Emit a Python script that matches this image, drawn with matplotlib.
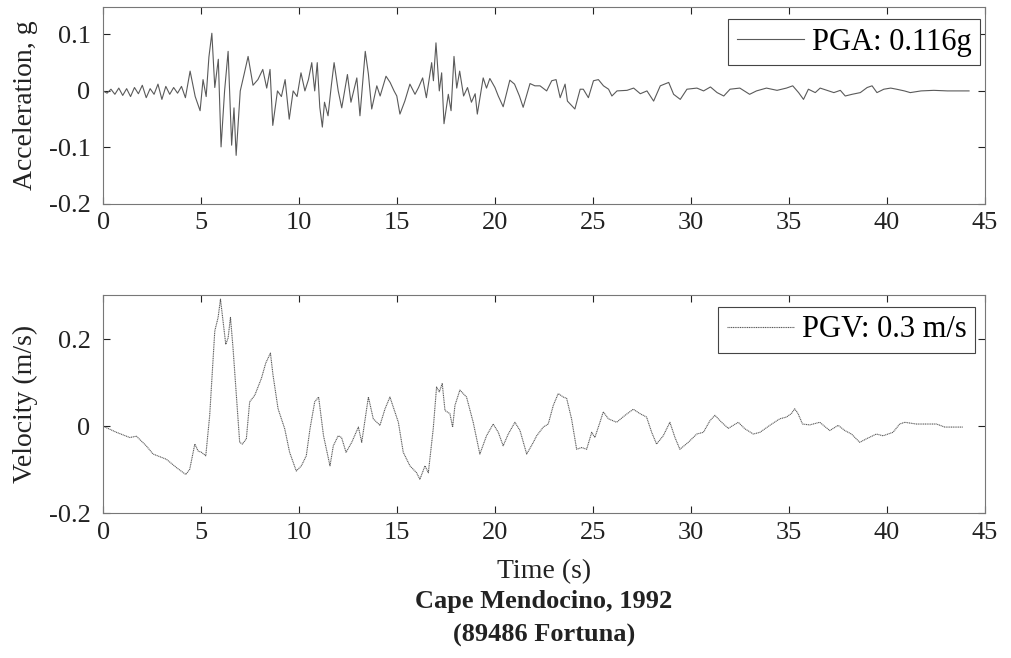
import matplotlib
matplotlib.use("Agg")
import matplotlib.pyplot as plt
import numpy as np

plt.rcParams['font.family'] = ['Liberation Serif', 'DejaVu Serif']
plt.rcParams['axes.unicode_minus'] = False

# ---------------- data ----------------
# acceleration (g) vs time (s), lines kept aligned 10 by 10
acc_t = [0.0, 0.2, 0.4, 0.6, 0.8, 1.0, 1.2, 1.4, 1.6, 1.8,
         2.0, 2.2, 2.4, 2.6, 2.8, 3.0, 3.2, 3.4, 3.6, 3.8,
         4.0, 4.2, 4.44, 4.7, 4.95, 5.1, 5.26, 5.4, 5.55, 5.7,
         5.88, 6.02, 6.2, 6.38, 6.56, 6.68, 6.79, 7.0, 7.2, 7.4,
         7.65, 7.9, 8.15, 8.35, 8.52, 8.66, 8.9, 9.1, 9.29, 9.5,
         9.7, 9.9, 10.1, 10.3, 10.48, 10.65, 10.8, 10.93, 11.06, 11.19,
         11.3, 11.48, 11.65, 11.79, 12.0, 12.18, 12.47, 12.65, 12.95, 13.11,
         13.38, 13.54, 13.71, 13.97, 14.14, 14.44, 14.65, 14.85, 14.99, 15.15,
         15.4, 15.66, 15.92, 16.1, 16.31, 16.5, 16.77, 16.86, 16.99, 17.16,
         17.28, 17.4, 17.62, 17.76, 17.91, 18.05, 18.2, 18.4, 18.6, 18.8,
         18.99, 19.1, 19.4, 19.57, 19.74, 20.0, 20.17, 20.42, 20.76, 21.0,
         21.25, 21.44, 21.79, 22.04, 22.3, 22.64, 22.9, 23.12, 23.33, 23.58,
         23.7, 24.08, 24.35, 24.51, 24.77, 25.03, 25.28, 25.54, 25.8, 25.97,
         26.23, 26.74, 27.08, 27.42, 27.76, 28.1, 28.44, 28.87, 29.12, 29.46,
         29.8, 30.31, 30.65, 31.0, 31.34, 31.68, 32.0, 32.5, 33.0, 33.35,
         33.86, 34.4, 34.88, 35.2, 35.5, 35.75, 36.0, 36.35, 36.6, 36.95,
         37.3, 37.63, 37.88, 38.23, 38.65, 39.0, 39.25, 39.5, 39.85, 40.2,
         40.5, 40.9, 41.2, 41.75, 42.4, 43.1, 44.2]
acc_g = [0.0, -0.004, 0.003, -0.006, 0.005, -0.008, 0.004, -0.01, 0.006, -0.005,
         0.01, -0.012, 0.004, -0.006, 0.012, -0.015, 0.008, -0.006, 0.006, -0.004,
         0.008, -0.012, 0.035, -0.01, -0.035, 0.02, -0.01, 0.06, 0.102, 0.006,
         0.056, -0.099, 0.0, 0.07, -0.096, -0.03, -0.114, 0.0, 0.03, 0.061,
         0.01, 0.02, 0.038, 0.005, 0.038, -0.061, 0.0, -0.01, 0.02, -0.05,
         0.0, -0.01, 0.032, 0.0, 0.02, 0.05, 0.0, 0.05, -0.029, -0.064,
         -0.02, -0.044, 0.01, 0.05, 0.0, -0.03, 0.029, -0.02, 0.023, -0.044,
         0.07, 0.03, -0.032, 0.009, -0.009, 0.026, 0.015, 0.0, -0.009, -0.041,
         -0.018, 0.012, -0.006, 0.006, 0.023, -0.012, 0.05, 0.018, 0.085, 0.0,
         0.032, -0.058, -0.006, -0.035, 0.061, 0.005, 0.035, -0.009, 0.006, -0.02,
         -0.005, -0.041, 0.023, 0.005, 0.022, 0.006, -0.009, -0.028, 0.019, 0.012,
         -0.009, -0.029, 0.013, 0.009, 0.009, 0.0, 0.018, 0.02, -0.012, 0.012,
         -0.018, -0.032, 0.003, 0.003, -0.012, 0.018, 0.02, 0.009, 0.003, -0.009,
         0.0, 0.001, 0.005, -0.005, 0.0, -0.018, 0.009, 0.015, -0.006, -0.015,
         0.003, 0.005, 0.0, 0.007, -0.003, -0.009, 0.003, 0.005, -0.006, 0.0,
         0.005, 0.001, 0.005, 0.009, -0.003, -0.015, 0.003, -0.003, 0.005, 0.001,
         -0.003, 0.001, -0.009, -0.006, -0.003, 0.006, 0.009, -0.003, 0.003, 0.005,
         0.003, 0.0, -0.003, 0.0, 0.001, 0.0, 0.0]

# velocity (m/s) vs time (s)
vel_t = [0.0, 0.68, 1.36, 1.7, 2.2, 2.55, 3.23, 3.74, 4.22, 4.42,
         4.68, 4.85, 5.02, 5.24, 5.44, 5.7, 5.87, 5.99, 6.12, 6.26,
         6.38, 6.5, 6.63, 6.8, 6.97, 7.11, 7.31, 7.48, 7.74, 8.08,
         8.3, 8.54, 8.67, 8.93, 9.27, 9.52, 9.86, 10.12, 10.37, 10.56,
         10.8, 11.0, 11.25, 11.58, 11.75, 12.0, 12.17, 12.4, 12.69, 13.03,
         13.2, 13.54, 13.79, 14.13, 14.39, 14.64, 15.07, 15.32, 15.66, 16.0,
         16.17, 16.43, 16.6, 16.85, 17.02, 17.16, 17.31, 17.45, 17.7, 17.84,
         17.96, 18.21, 18.55, 18.89, 19.23, 19.57, 19.91, 20.17, 20.42, 20.68,
         21.02, 21.28, 21.62, 21.96, 22.13, 22.47, 22.72, 22.98, 23.23, 23.49,
         23.66, 23.91, 24.17, 24.43, 24.68, 24.94, 25.1, 25.36, 25.53, 25.79,
         26.21, 26.64, 27.06, 27.4, 27.74, 28.0, 28.25, 28.59, 28.93, 29.19,
         29.44, 29.87, 30.3, 30.64, 30.98, 31.23, 31.57, 31.91, 32.42, 32.76,
         33.19, 33.53, 34.03, 34.54, 34.88, 35.13, 35.3, 35.47, 35.7, 36.07,
         36.58, 37.09, 37.52, 37.86, 38.2, 38.62, 38.96, 39.47, 39.81, 40.32,
         40.66, 40.92, 41.51, 42.54, 42.96, 43.9]
vel_ms = [0.0, -0.014, -0.026, -0.023, -0.045, -0.064, -0.076, -0.095, -0.111, -0.099,
          -0.041, -0.057, -0.06, -0.068, 0.025, 0.219, 0.25, 0.292, 0.242, 0.188,
          0.203, 0.25, 0.18, 0.071, -0.037, -0.041, -0.029, 0.056, 0.071, 0.11,
          0.145, 0.168, 0.118, 0.04, -0.006, -0.06, -0.103, -0.091, -0.068, -0.006,
          0.056, 0.067, -0.022, -0.091, -0.045, -0.022, -0.026, -0.06, -0.037, -0.002,
          -0.037, 0.067, 0.017, 0.002, 0.04, 0.067, 0.009, -0.06, -0.091, -0.107,
          -0.122, -0.091, -0.107, -0.006, 0.09, 0.079, 0.098, 0.036, 0.029, -0.002,
          0.048, 0.083, 0.067, 0.009, -0.064, -0.022, 0.005, -0.014, -0.045, -0.018,
          0.009, -0.01, -0.064, -0.037, -0.022, -0.002, 0.005, 0.048, 0.075, 0.067,
          0.064, 0.017, -0.053, -0.049, -0.053, -0.014, -0.026, 0.009, 0.033, 0.017,
          0.009, 0.025, 0.039, 0.029, 0.021, -0.014, -0.041, -0.022, 0.009, -0.026,
          -0.053, -0.037, -0.018, -0.014, 0.013, 0.025, 0.009, -0.005, 0.009, -0.006,
          -0.018, -0.014, 0.002, 0.017, 0.021, 0.029, 0.04, 0.029, 0.005, 0.003,
          0.009, -0.01, 0.002, -0.01, -0.018, -0.037, -0.029, -0.018, -0.022, -0.014,
          0.005, 0.009, 0.005, 0.005, -0.002, -0.002]

x_ticks = [0, 5, 10, 15, 20, 25, 30, 35, 40, 45]
acc_ticks = [0.1, 0, -0.1, -0.2]
acc_tick_labels = ['0.1', '0', '-0.1', '-0.2']
vel_ticks = [0.2, 0, -0.2]
vel_tick_labels = ['0.2', '0', '-0.2']
pga_label = 'PGA: 0.116g'
pgv_label = 'PGV: 0.3 m/s'

# ---------------- figure ----------------
fig = plt.figure(figsize=(10.11, 6.58), dpi=100)
ax1 = fig.add_axes([0.102, 0.690, 0.872, 0.299])
ax2 = fig.add_axes([0.102, 0.220, 0.872, 0.332])

line_col = '#5a5a5a'
ax1.plot(acc_t, acc_g, color=line_col, lw=0.8, label=pga_label)
ax2.plot(vel_t, vel_ms, color=line_col, lw=0.8, ls=(0, (1, 0.6)), label=pgv_label)

txt_col = '#222222'
for ax in (ax1, ax2):
    ax.set_xlim(0, 45)
    ax.set_xticks(x_ticks)
    ax.tick_params(direction='in', top=True, right=True, length=5, width=0.8,
                   labelsize=19, colors=txt_col)
    ax.tick_params(axis='x', pad=6)
    ax.tick_params(axis='y', pad=9)
    for sp in ax.spines.values():
        sp.set_color('#777777')
        sp.set_linewidth(0.8)

ax1.set_ylim(-0.2, 0.148)
ax1.set_yticks(acc_ticks)
ax1.set_yticklabels(acc_tick_labels)
ax1.set_ylabel('Acceleration, g', fontsize=20, color=txt_col, labelpad=8)

ax2.set_ylim(-0.2, 0.302)
ax2.set_yticks(vel_ticks)
ax2.set_yticklabels(vel_tick_labels)
ax2.set_ylabel('Velocity (m/s)', fontsize=20, color=txt_col, labelpad=8)
ax2.set_xlabel('Time (s)', fontsize=20, color=txt_col, labelpad=11)

leg_kw = dict(loc='upper right', fontsize=22, fancybox=False, framealpha=1,
              edgecolor='#444444', handlelength=2.2, handletextpad=0.25,
              borderpad=0.28, borderaxespad=0)
l1 = ax1.legend(bbox_to_anchor=(0.9945, 0.94), **leg_kw)
l2 = ax2.legend(bbox_to_anchor=(0.989, 0.945), **leg_kw)
for lg in (l1, l2):
    lg.get_frame().set_linewidth(0.8)

fig.text(0.538, 0.06, 'Cape Mendocino, 1992\n(89486 Fortuna)', ha='center',
         va='center', fontsize=19, fontweight='bold', linespacing=1.6,
         color=txt_col)

fig.savefig('out.png', dpi=100)
